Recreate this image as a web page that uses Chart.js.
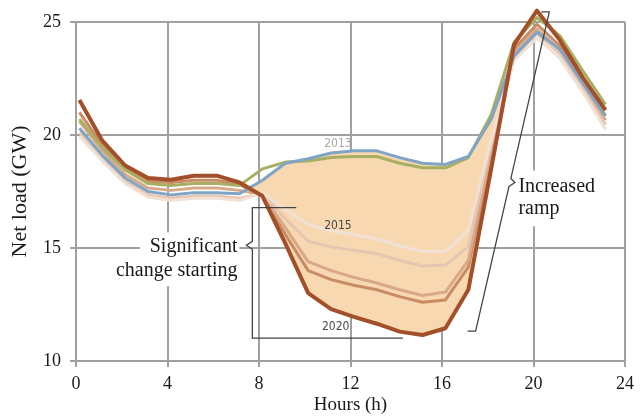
<!DOCTYPE html>
<html>
<head>
<meta charset="utf-8">
<script src="https://cdn.jsdelivr.net/npm/chart.js@4"></script>
<style>
  html, body { margin: 0; padding: 0; background: #fff; }
</style>
</head>
<body>
<canvas id="duck" width="640" height="416" style="width:640px;height:416px"></canvas>
<script>
// hour of day for each reading
const hours = [0.15, 1.15, 2.15, 3.15, 4.15, 5.15, 6.15, 7.15, 8.15, 9.15, 10.15, 11.15,
               12.15, 13.15, 14.15, 15.15, 16.15, 17.15, 18.15, 19.15, 20.15, 21.15, 22.15, 23.15];

// net load, GW
const load2012 = [20.3, 19.1, 18.1, 17.5, 17.35, 17.45, 17.45, 17.4, 18.0, 18.75, 18.95, 19.2,
                  19.3, 19.3, 19.0, 18.75, 18.7, 19.05, 20.7, 23.5, 24.55, 23.8, 22.3, 20.85];
const load2013 = [20.7, 19.45, 18.45, 17.85, 17.77, 17.85, 17.85, 17.77, 18.5, 18.8, 18.85, 19.0,
                  19.05, 19.05, 18.75, 18.55, 18.55, 19.0, 20.9, 24.1, 25.2, 24.4, 22.85, 21.35];
const load2015 = [19.95, 18.85, 17.85, 17.25, 17.1, 17.2, 17.2, 17.1, 17.45, 16.7, 16.05, 15.75,
                  15.6, 15.4, 15.1, 14.85, 14.85, 15.8, 19.8, 23.3, 24.3, 23.4, 21.9, 20.25];
const load2016 = [20.1, 18.95, 17.95, 17.35, 17.2, 17.3, 17.3, 17.2, 17.4, 16.3, 15.3, 15.05,
                  14.9, 14.75, 14.45, 14.2, 14.25, 15.05, 19.6, 23.4, 24.5, 23.6, 22.05, 20.45];
const load2017 = [20.6, 19.3, 18.25, 17.65, 17.55, 17.65, 17.65, 17.55, 17.35, 15.9, 14.4, 14.0,
                  13.7, 13.45, 13.15, 12.9, 13.05, 14.45, 19.3, 23.6, 24.7, 23.75, 22.2, 20.65];
const load2018 = [21.0, 19.55, 18.5, 17.95, 17.9, 18.0, 18.0, 17.8, 17.3, 15.6, 14.0, 13.6,
                  13.35, 13.15, 12.85, 12.6, 12.7, 14.15, 19.0, 23.8, 24.9, 23.95, 22.4, 20.85];
const load2020 = [21.55, 19.75, 18.65, 18.1, 18.02, 18.2, 18.2, 17.9, 17.3, 15.2, 13.0, 12.3,
                  11.95, 11.65, 11.3, 11.15, 11.45, 13.15, 18.5, 24.0, 25.5, 24.2, 22.55, 21.1];

const xTicks = [0, 4, 8, 12, 16, 20, 24];
const yTicks = [10, 15, 20, 25];

function pts(vals) {
    return vals.map((v, i) => ({ x: hours[i], y: v }));
}

function line(label, vals, color, width) {
    return {
        label: label,
        data: pts(vals),
        borderColor: color,
        borderWidth: width,
        pointRadius: 0,
        tension: 0,
        fill: false,
        clip: false,
        borderJoinStyle: 'round'
    };
}

const serif = 'Liberation Serif, Times New Roman, serif';

const notes = {
    id: 'notes',
    beforeDatasetsDraw(chart) {
        // white patches behind the callout text (cut the gridlines)
        const { ctx, scales: { x, y } } = chart;
        ctx.save();
        ctx.fillStyle = '#fff';
        ctx.fillRect(x.getPixelForValue(2.79), y.getPixelForValue(15.69),
            x.getPixelForValue(7.14) - x.getPixelForValue(2.79),
            y.getPixelForValue(13.31) - y.getPixelForValue(15.69));
        ctx.fillRect(x.getPixelForValue(19.12), y.getPixelForValue(18.43),
            x.getPixelForValue(23.04) - x.getPixelForValue(19.12),
            y.getPixelForValue(15.96) - y.getPixelForValue(18.43));
        ctx.restore();
    },
    afterDatasetsDraw(chart) {
        const { ctx, scales: { x, y } } = chart;
        const px = h => x.getPixelForValue(h);
        const py = v => y.getPixelForValue(v);
        ctx.save();

        // year labels
        ctx.textAlign = 'center';
        ctx.textBaseline = 'middle';
        ctx.font = '12px "DejaVu Sans Condensed", "Liberation Sans", sans-serif';
        ctx.fillStyle = '#a8a8a8';
        ctx.fillText('2013', px(11.45), py(19.6));
        ctx.fillStyle = '#4a4a4a';
        ctx.fillText('2015', px(11.45), py(16.0));
        ctx.fillText('2020', px(11.35), py(11.5));

        // callout text
        ctx.fillStyle = '#1a1a1a';
        ctx.font = '20px ' + serif;
        ctx.textBaseline = 'alphabetic';
        ctx.textAlign = 'right';
        ctx.fillText('Significant', px(7.06), py(14.82));
        ctx.fillText('change starting', px(7.06), py(13.76));
        ctx.textAlign = 'left';
        ctx.fillText('Increased', px(19.34), py(17.46));
        ctx.fillText('ramp', px(19.34), py(16.49));

        // left bracket
        ctx.strokeStyle = '#444';
        ctx.lineWidth = 1.3;
        const bx = px(7.71), yTop = py(16.79), yBot = py(11.01), yk = py(15.12);
        ctx.beginPath();
        ctx.moveTo(px(9.63), yTop);
        ctx.lineTo(bx, yTop);
        ctx.lineTo(bx, yk - 4);
        ctx.lineTo(bx - 6, yk);
        ctx.lineTo(bx, yk + 4);
        ctx.lineTo(bx, yBot);
        ctx.lineTo(px(14.29), yBot);
        ctx.stroke();

        // right bracket (slanted)
        const x1 = px(17.47), y1 = py(11.32), x2 = px(20.69), y2 = py(25.45);
        const k = py(17.9);
        const onDiag = yy => x1 + (yy - y1) / (y2 - y1) * (x2 - x1);
        ctx.beginPath();
        ctx.moveTo(px(17.12), y1);
        ctx.lineTo(x1, y1);
        ctx.lineTo(onDiag(k + 4), k + 4);
        ctx.lineTo(onDiag(k) + 5, k);
        ctx.lineTo(onDiag(k - 4), k - 4);
        ctx.lineTo(x2, y2);
        ctx.lineTo(px(20.34), y2);
        ctx.stroke();

        ctx.restore();
    }
};

const ctx = document.getElementById('duck').getContext('2d');
const duckChart = new Chart(ctx, {
    type: 'line',
    data: {
        datasets: [
            line('2012', load2012, '#7fa4c6', 3),
            line('2013', load2013, '#a8ae62', 3),
            line('2015', load2015, '#f1e1d5', 3),
            line('2016', load2016, '#e6c6b0', 3),
            line('2017', load2017, '#d8a888', 3),
            line('2018', load2018, '#c98b63', 3),
            Object.assign(line('2020', load2020, '#a3502a', 4), {
                order: -1,
                fill: { target: 0, above: 'rgba(0,0,0,0)', below: '#f8d8b0' }
            })
        ]
    },
    options: {
        responsive: false,
        animation: false,
        devicePixelRatio: 1,
        layout: { padding: { top: 22, right: 13, left: 0, bottom: 0 } },
        scales: {
            x: {
                type: 'linear',
                min: 0,
                max: 24,
                afterFit: s => { s.height = 55; },
                afterBuildTicks: s => { s.ticks = xTicks.map(v => ({ value: v })); },
                grid: { color: '#a0a0a0', lineWidth: 2, tickLength: 6 },
                border: { color: '#a0a0a0', width: 2 },
                ticks: { color: '#1a1a1a', padding: 6, font: { family: serif, size: 18 } },
                title: {
                    display: true,
                    text: 'Hours (h)',
                    color: '#1a1a1a',
                    font: { family: serif, size: 19 },
                    padding: { top: 4, bottom: 0 }
                }
            },
            y: {
                min: 10,
                max: 25,
                afterFit: s => { s.width = 76; },
                afterBuildTicks: s => { s.ticks = yTicks.map(v => ({ value: v })); },
                grid: { color: '#a0a0a0', lineWidth: 2, tickLength: 6 },
                border: { color: '#a0a0a0', width: 2 },
                ticks: { color: '#1a1a1a', padding: 9, font: { family: serif, size: 18 } },
                title: {
                    display: true,
                    text: 'Net load (GW)',
                    color: '#1a1a1a',
                    font: { family: serif, size: 22 },
                    padding: { top: 7, bottom: 0 }
                }
            }
        },
        plugins: {
            legend: { display: false },
            tooltip: { enabled: false },
            filler: { drawTime: 'beforeDatasetsDraw' }
        }
    },
    plugins: [notes]
});
</script>
</body>
</html>
